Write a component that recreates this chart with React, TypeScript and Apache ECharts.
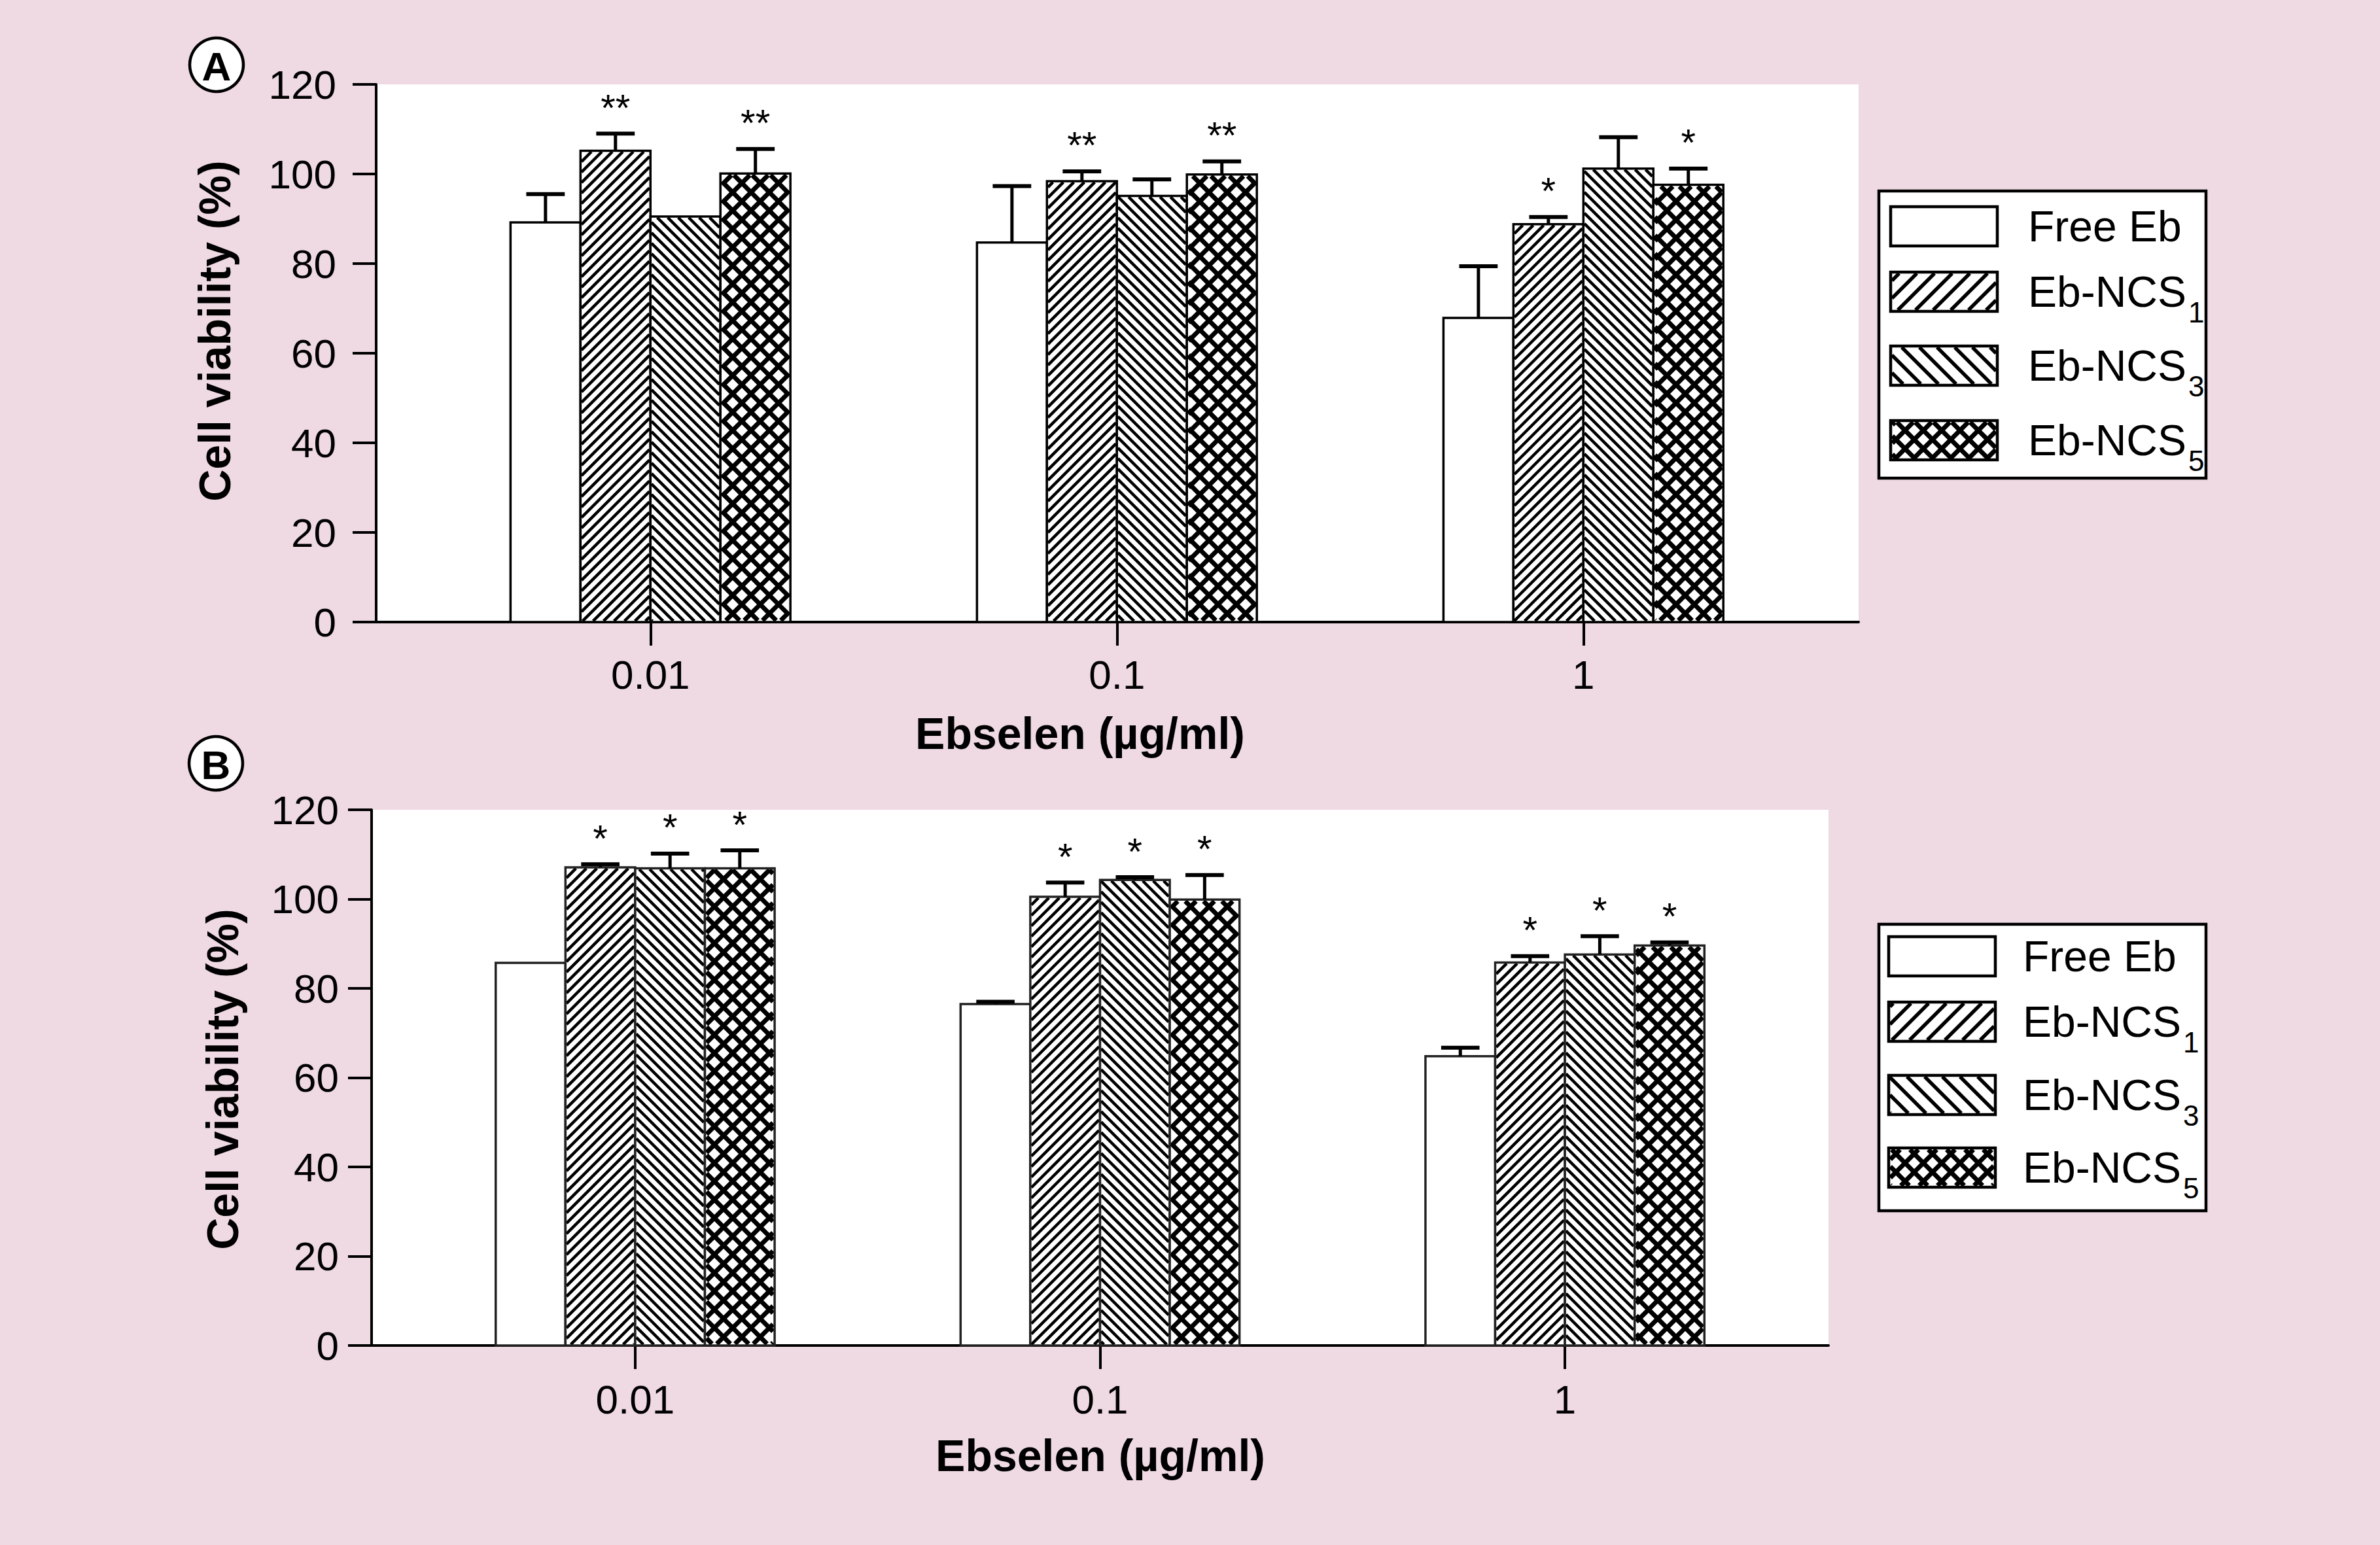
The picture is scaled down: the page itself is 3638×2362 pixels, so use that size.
import React, { useEffect, useRef } from 'react';
import * as echarts from 'echarts';

// ---------- data ----------
const categories = ['0.01', '0.1', '1'];
const seriesNames = ['Free Eb', 'Eb-NCS1', 'Eb-NCS3', 'Eb-NCS5'];
const legendMain = ['Free Eb', 'Eb-NCS', 'Eb-NCS', 'Eb-NCS'];
const legendSub = ['', '1', '3', '5'];
const yTickValues = [0, 20, 40, 60, 80, 100, 120];

// Panel A
const freeEbA = [89.2, 84.7, 67.9];
const freeEbErrA = [6.3, 12.6, 11.5];
const ncs1A = [105.2, 98.4, 88.8];
const ncs1ErrA = [3.8, 2.2, 1.6];
const ncs3A = [90.5, 95.1, 101.2];
const ncs3ErrA = [0, 3.7, 7.0];
const ncs5A = [100.1, 99.9, 97.6];
const ncs5ErrA = [5.5, 2.9, 3.6];
const freeEbStarsA = ['', '', ''];
const ncs1StarsA = ['**', '**', '*'];
const ncs3StarsA = ['', '', ''];
const ncs5StarsA = ['**', '**', '*'];

// Panel B
const freeEbB = [85.7, 76.5, 64.8];
const freeEbErrB = [0, 0.5, 1.9];
const ncs1B = [107.1, 100.5, 85.8];
const ncs1ErrB = [0.7, 3.2, 1.4];
const ncs3B = [106.9, 104.3, 87.6];
const ncs3ErrB = [3.3, 0.6, 4.1];
const ncs5B = [106.9, 99.9, 89.6];
const ncs5ErrB = [4.0, 5.5, 0.7];
const freeEbStarsB = ['', '', ''];
const ncs1StarsB = ['*', '*', '*'];
const ncs3StarsB = ['*', '*', '*'];
const ncs5StarsB = ['*', '*', '*'];

// ---------- styling / layout ----------
const FONT = '"Liberation Sans", Arial, Helvetica, sans-serif';
const BG = '#efd9e3';
const BAR_UNIT = 0.15;
const PATTERNS = ['none', 'fwd', 'back', 'cross'];

type Hatch = { step: number; lw: number; crossStep: number; crossLw: number };
const BAR_HATCH: Hatch = { step: 16, lw: 4.5, crossStep: 28, crossLw: 7 };
const LEGEND_HATCH: Hatch = { step: 27, lw: 5.5, crossStep: 28, crossLw: 7 };

function familyLines(dir: string, x0: number, y0: number, x1: number, y1: number, step: number, lw: number, phase: number) {
  const out: any[] = [];
  if (dir === 'fwd') {
    const cMin = x0 + y0, cMax = x1 + y1;
    for (let c = Math.ceil((cMin - phase) / step) * step + phase; c <= cMax; c += step) {
      const xa = Math.max(x0, c - y1), xb = Math.min(x1, c - y0);
      if (xb - xa < 0.5) continue;
      out.push({ type: 'line', silent: true, shape: { x1: xa, y1: c - xa, x2: xb, y2: c - xb }, style: { stroke: '#000', lineWidth: lw } });
    }
  } else {
    const cMin = x0 - y1, cMax = x1 - y0;
    for (let c = Math.ceil((cMin - phase) / step) * step + phase; c <= cMax; c += step) {
      const xa = Math.max(x0, y0 + c), xb = Math.min(x1, y1 + c);
      if (xb - xa < 0.5) continue;
      out.push({ type: 'line', silent: true, shape: { x1: xa, y1: xa - c, x2: xb, y2: xb - c }, style: { stroke: '#000', lineWidth: lw } });
    }
  }
  return out;
}

function patternLines(kind: string, x0: number, y0: number, x1: number, y1: number, h: Hatch) {
  if (kind === 'none') return [];
  if (kind === 'cross') {
    const ins = h.crossLw * 0.36;
    return [
      ...familyLines('fwd', x0 + ins, y0 + ins, x1 - ins, y1 - ins, h.crossStep, h.crossLw, h.crossStep / 2),
      ...familyLines('back', x0 + ins, y0 + ins, x1 - ins, y1 - ins, h.crossStep, h.crossLw, h.crossStep / 2),
    ];
  }
  const ins = h.lw * 0.36;
  return familyLines(kind, x0 + ins, y0 + ins, x1 - ins, y1 - ins, h.step, h.lw, 0);
}

function buildRender(s: number, stars: string[], border: string) {
  return function (params: any, api: any) {
    const i = params.dataIndex;
    const xv = api.value(0) + (s - 1.5) * BAR_UNIT;
    const v = api.value(1);
    const e = api.value(2);
    const topPt = api.coord([xv, v]);
    const basePt = api.coord([xv, 0]);
    const w = api.size([BAR_UNIT, 0])[0];
    const cx = topPt[0];
    const x0 = cx - w / 2, x1 = cx + w / 2, y0 = topPt[1], y1 = basePt[1];
    const children: any[] = [];
    children.push({ type: 'rect', shape: { x: x0, y: y0, width: w, height: y1 - y0 }, style: { fill: '#fff' } });
    children.push(...patternLines(PATTERNS[s], x0, y0, x1, y1, BAR_HATCH));
    children.push({ type: 'rect', shape: { x: x0, y: y0, width: w, height: y1 - y0 }, style: { fill: 'none', stroke: border, lineWidth: 3.5 } });
    let capY = y0;
    if (e > 0) {
      capY = api.coord([xv, v + e])[1];
      const cw = w * 0.55;
      children.push({ type: 'line', shape: { x1: cx, y1: y0, x2: cx, y2: capY }, style: { stroke: '#000', lineWidth: 5 } });
      children.push({ type: 'line', shape: { x1: cx - cw / 2, y1: capY, x2: cx + cw / 2, y2: capY }, style: { stroke: '#000', lineWidth: 6 } });
    }
    if (stars[i]) {
      children.push({
        type: 'text', x: cx, y: capY - 40,
        style: { text: stars[i], fontSize: 58, fontFamily: FONT, fill: '#000', align: 'center', verticalAlign: 'middle' },
      });
    }
    return { type: 'group', children };
  };
}

const panels = [
  {
    grid: { left: 575, top: 129, width: 2266, height: 822 },
    xMin: -0.588, xMax: 2.59, yLabelMargin: 61, xLabelMargin: 49, border: '#000',
    values: [freeEbA, ncs1A, ncs3A, ncs5A],
    errs: [freeEbErrA, ncs1ErrA, ncs3ErrA, ncs5ErrA],
    stars: [freeEbStarsA, ncs1StarsA, ncs3StarsA, ncs5StarsA],
  },
  {
    grid: { left: 568, top: 1238, width: 2227, height: 819 },
    xMin: -0.567, xMax: 2.567, yLabelMargin: 50, xLabelMargin: 51, border: '#222',
    values: [freeEbB, ncs1B, ncs3B, ncs5B],
    errs: [freeEbErrB, ncs1ErrB, ncs3ErrB, ncs5ErrB],
    stars: [freeEbStarsB, ncs1StarsB, ncs3StarsB, ncs5StarsB],
  },
];

const panelDecor = [
  { letter: 'A', circle: [331, 99], yTitle: [328, 506], xTitle: [1651, 1121],
    legendBox: [2872, 292, 500, 439], swatchX: 2890, textX: 3100, rows: [346, 446, 559, 673] },
  { letter: 'B', circle: [330, 1167], yTitle: [340, 1650], xTitle: [1682, 2225],
    legendBox: [2872, 1413, 500, 438], swatchX: 2887, textX: 3092, rows: [1462, 1562, 1674, 1785] },
];

function measure(text: string, font: string) {
  const c = document.createElement('canvas');
  const ctx = c.getContext('2d')!;
  ctx.font = font;
  return ctx.measureText(text).width;
}

function buildOption() {
  const grids: any[] = [];
  const xAxes: any[] = [];
  const yAxes: any[] = [];
  const series: any[] = [];
  const graphic: any[] = [];

  panels.forEach((p, pi) => {
    grids.push({ ...p.grid, show: true, backgroundColor: '#fff', borderWidth: 0, containLabel: false });
    xAxes.push({
      gridIndex: pi, type: 'value', min: p.xMin, max: p.xMax,
      axisLine: { show: true, onZero: false, lineStyle: { color: '#000', width: 4 } },
      axisTick: { show: true, length: 36, customValues: [0, 1, 2], lineStyle: { color: '#000', width: 4 } },
      axisLabel: {
        show: true, customValues: [0, 1, 2], margin: p.xLabelMargin, fontSize: 62, fontFamily: FONT, color: '#000',
        formatter: (val: number) => categories[Math.round(val)] ?? '',
      },
      splitLine: { show: false },
    });
    yAxes.push({
      gridIndex: pi, type: 'value', min: 0, max: 120, interval: 20,
      axisLine: { show: true, onZero: false, lineStyle: { color: '#000', width: 4 } },
      axisTick: { show: true, length: 36, lineStyle: { color: '#000', width: 4 } },
      axisLabel: { show: true, margin: p.yLabelMargin, fontSize: 62, fontFamily: FONT, color: '#000',
        formatter: (val: number) => (yTickValues.includes(val) ? String(val) : '') },
      splitLine: { show: false },
    });
    for (let s = 0; s < 4; s++) {
      series.push({
        type: 'custom', name: seriesNames[s], xAxisIndex: pi, yAxisIndex: pi, clip: false, z: 3 + s,
        encode: { x: 0, y: 1 },
        data: categories.map((_, i) => [i, p.values[s][i], p.errs[s][i]]),
        renderItem: buildRender(s, p.stars[s], p.border),
      });
    }

    const d = panelDecor[pi];
    graphic.push({ type: 'circle', shape: { cx: d.circle[0], cy: d.circle[1], r: 41 }, style: { fill: '#fff', stroke: '#000', lineWidth: 4.5 }, z: 10 });
    graphic.push({ type: 'text', x: d.circle[0], y: d.circle[1] + 2, z: 11,
      style: { text: d.letter, fontSize: 62, fontWeight: 'bold', fontFamily: FONT, fill: '#000', align: 'center', verticalAlign: 'middle' } });
    graphic.push({ type: 'text', x: d.yTitle[0], y: d.yTitle[1], rotation: Math.PI / 2, z: 10,
      style: { text: 'Cell viability (%)', fontSize: 68, fontWeight: 'bold', fontFamily: FONT, fill: '#000', align: 'center', verticalAlign: 'middle' } });
    graphic.push({ type: 'text', x: d.xTitle[0], y: d.xTitle[1], z: 10,
      style: { text: 'Ebselen (µg/ml)', fontSize: 68, fontWeight: 'bold', fontFamily: FONT, fill: '#000', align: 'center', verticalAlign: 'middle' } });
    const [lx, ly, lw, lh] = d.legendBox;
    graphic.push({ type: 'rect', shape: { x: lx, y: ly, width: lw, height: lh }, style: { fill: '#fff', stroke: '#000', lineWidth: 4.5 }, z: 10 });
    const sw = 163, sh = 60;
    const legendFont = 66;
    d.rows.forEach((cy, s) => {
      const x0 = d.swatchX, y0 = cy - sh / 2;
      graphic.push({ type: 'rect', shape: { x: x0, y: y0, width: sw, height: sh }, style: { fill: '#fff' }, z: 11 });
      patternLines(PATTERNS[s], x0, y0, x0 + sw, y0 + sh, LEGEND_HATCH).forEach((el) => graphic.push({ ...el, z: 12 }));
      graphic.push({ type: 'rect', shape: { x: x0, y: y0, width: sw, height: sh }, style: { fill: 'none', stroke: '#000', lineWidth: 4.5 }, z: 13 });
      graphic.push({ type: 'text', x: d.textX, y: cy, z: 13,
        style: { text: legendMain[s], fontSize: legendFont, fontFamily: FONT, fill: '#000', align: 'left', verticalAlign: 'middle' } });
      if (legendSub[s]) {
        const wMain = measure(legendMain[s], `${legendFont}px ${FONT}`);
        graphic.push({ type: 'text', x: d.textX + wMain + 3, y: cy + 31, z: 13,
          style: { text: legendSub[s], fontSize: 44, fontFamily: FONT, fill: '#000', align: 'left', verticalAlign: 'middle' } });
      }
    });
  });

  return {
    animation: false,
    backgroundColor: BG,
    grid: grids,
    xAxis: xAxes,
    yAxis: yAxes,
    series,
    graphic,
  };
}

export default function App() {
  const ref = useRef<HTMLDivElement>(null);
  useEffect(() => {
    document.body.style.margin = '0';
    if (!ref.current) return;
    const chart = echarts.init(ref.current, null, { renderer: 'svg' });
    chart.setOption(buildOption() as any);
    return () => chart.dispose();
  }, []);
  return <div ref={ref} style={{ position: 'fixed', left: 0, top: 0, width: 3638, height: 2362 }} />;
}
